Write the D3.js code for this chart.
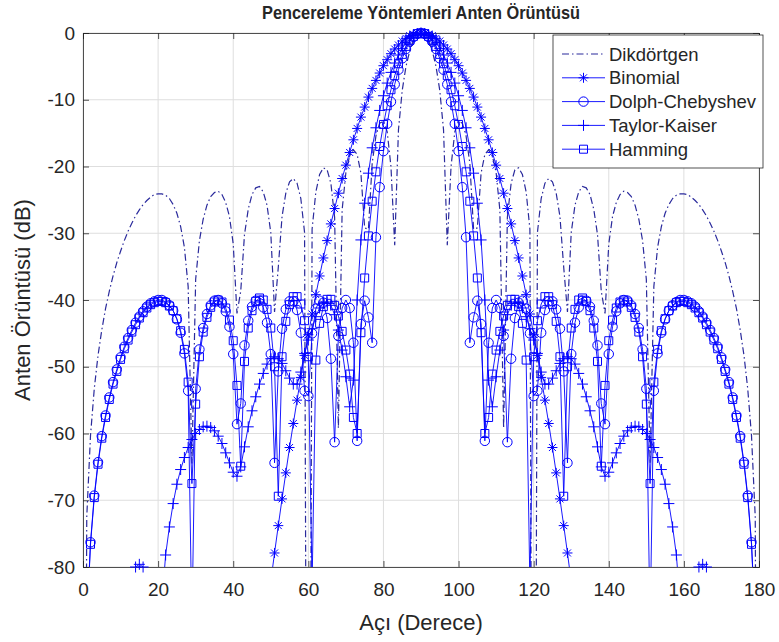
<!DOCTYPE html>
<html>
<head>
<meta charset="utf-8">
<style>
  body { margin: 0; background: #fff; }
  text { font-family: "Liberation Sans", Arial, sans-serif; fill: #262626; }
</style>
</head>
<body>
<div id="container"></div>
<script src="https://cdn.jsdelivr.net/npm/d3@7/dist/d3.min.js"></script>
<script>
  // aci ekseni: 0..180 derece, 1 derece adim
  const aci = d3.range(0, 181);

  // dB degerleri (null = -80 altinda, gorunmuyor)
  const dikdortgen = [
    -300,-72.5,-60.3,-53.3,-48.3,-44.5,-41.3,-38.7,-36.4,-34.4,
    -32.7,-31.1,-29.7,-28.5,-27.4,-26.5,-25.7,-25.1,-24.6,-24.2,
    -24.1,-24.1,-24.3,-24.8,-25.7,-27.0,-29.0,-32.1,-38.0,-64.5,
    -36.9,-31.1,-27.9,-25.8,-24.5,-23.9,-23.7,-24.2,-25.4,-27.5,
    -31.6,-42.0,-38.7,-30.2,-26.4,-24.2,-23.2,-23.0,-23.8,-25.8,
    -29.9,-41.8,-35.1,-27.5,-24.0,-22.3,-21.8,-22.5,-24.8,-29.9,
    -300,-29.4,-23.8,-21.2,-20.2,-20.5,-22.5,-27.6,-59.2,-26.5,
    -20.9,-18.4,-17.5,-18.2,-21.0,-29.2,-29.4,-19.5,-15.4,-13.5,
    -13.2,-14.8,-20.0,-31.8,-14.5,-8.6,-5.0,-2.7,-1.1,-0.3,
    0,
    -0.3,-1.1,-2.7,-5.0,-8.6,-14.5,-31.8,-20.0,-14.8,-13.2,
    -13.5,-15.4,-19.5,-29.4,-29.2,-21.0,-18.2,-17.5,-18.4,-20.9,
    -26.5,-59.2,-27.6,-22.5,-20.5,-20.2,-21.2,-23.8,-29.4,-300,
    -29.9,-24.8,-22.5,-21.8,-22.3,-24.0,-27.5,-35.1,-41.8,-29.9,
    -25.8,-23.8,-23.0,-23.2,-24.2,-26.4,-30.2,-38.7,-42.0,-31.6,
    -27.5,-25.4,-24.2,-23.7,-23.9,-24.5,-25.8,-27.9,-31.1,-36.9,
    -64.5,-38.0,-32.1,-29.0,-27.0,-25.7,-24.8,-24.3,-24.1,-24.1,
    -24.2,-24.6,-25.1,-25.7,-26.5,-27.4,-28.5,-29.7,-31.1,-32.7,
    -34.4,-36.4,-38.7,-41.3,-44.5,-48.3,-53.3,-60.3,-72.5,-300
  ];

  const binomial = [
    null,null,null,null,null,null,null,null,null,null,
    null,null,null,null,null,null,null,null,null,null,
    null,null,null,null,null,null,null,null,null,null,
    null,null,null,null,null,null,null,null,null,null,
    null,null,null,null,null,null,null,null,-91.3,-86.6,
    -82.2,-77.9,-73.8,-69.8,-65.9,-62.1,-58.5,-55.0,-51.6,-48.3,
    -45.2,-42.1,-39.2,-36.4,-33.7,-31.1,-28.6,-26.3,-24.0,-21.8,
    -19.8,-17.9,-16.0,-14.3,-12.6,-11.1,-9.6,-8.3,-7.1,-6.0,
    -4.9,-4.0,-3.1,-2.4,-1.8,-1.2,-0.8,-0.4,-0.2,-0.05,
    0,
    -0.05,-0.2,-0.4,-0.8,-1.2,-1.8,-2.4,-3.1,-4.0,-4.9,
    -6.0,-7.1,-8.3,-9.6,-11.1,-12.6,-14.3,-16.0,-17.9,-19.8,
    -21.8,-24.0,-26.3,-28.6,-31.1,-33.7,-36.4,-39.2,-42.1,-45.2,
    -48.3,-51.6,-55.0,-58.5,-62.1,-65.9,-69.8,-73.8,-77.9,-82.2,
    -86.6,-91.3,null,null,null,null,null,null,null,null,
    null,null,null,null,null,null,null,null,null,null,
    null,null,null,null,null,null,null,null,null,null,
    null,null,null,null,null,null,null,null,null,null,
    null,null,null,null,null,null,null,null,null,null
  ];

  const dolph = [
    -300,-88.4,-76.3,-69.3,-64.3,-60.4,-57.3,-54.6,-52.3,-50.4,
    -48.6,-47.0,-45.7,-44.5,-43.4,-42.5,-41.7,-41.0,-40.5,-40.2,
    -40.0,-40.0,-40.3,-40.8,-41.6,-42.9,-44.9,-48.0,-53.6,-88.9,
    -53.3,-47.4,-44.2,-42.1,-40.8,-40.1,-40.0,-40.5,-41.7,-44.0,
    -48.1,-58.6,-55.5,-46.8,-43.1,-41.0,-40.1,-40.1,-41.1,-43.4,
    -48.1,-64.4,-50.7,-44.3,-41.4,-40.2,-40.2,-41.5,-44.9,-53.6,
    -54.4,-45.0,-41.3,-40.1,-40.4,-42.7,-48.8,-61.3,-45.4,-41.2,
    -40.0,-41.2,-46.4,-61.1,-43.6,-40.1,-42.6,-46.4,-30.6,-23.1,
    -17.7,-13.6,-10.3,-7.7,-5.5,-3.8,-2.4,-1.3,-0.6,-0.15,
    0,
    -0.15,-0.6,-1.3,-2.4,-3.8,-5.5,-7.7,-10.3,-13.6,-17.7,
    -23.1,-30.6,-46.4,-42.6,-40.1,-43.6,-61.1,-46.4,-41.2,-40.0,
    -41.2,-45.4,-61.3,-48.8,-42.7,-40.4,-40.1,-41.3,-45.0,-54.4,
    -53.6,-44.9,-41.5,-40.2,-40.2,-41.4,-44.3,-50.7,-64.4,-48.1,
    -43.4,-41.1,-40.1,-40.1,-41.0,-43.1,-46.8,-55.5,-58.6,-48.1,
    -44.0,-41.7,-40.5,-40.0,-40.1,-40.8,-42.1,-44.2,-47.4,-53.3,
    -88.9,-53.6,-48.0,-44.9,-42.9,-41.6,-40.8,-40.3,-40.0,-40.0,
    -40.2,-40.5,-41.0,-41.7,-42.5,-43.4,-44.5,-45.7,-47.0,-48.6,
    -50.4,-52.3,-54.6,-57.3,-60.4,-64.3,-69.3,-76.3,-88.4,-300
  ];

  const taylor = [
    null,null,null,null,null,null,null,null,null,null,
    null,null,-84.0,-81.5,-80.0,-79.6,-80.0,-81.5,-84.5,-90.0,
    -96.0,-85.5,-78.2,-74.0,-70.5,-67.6,-65.4,-63.6,-62.1,-60.9,
    -60.0,-59.4,-59.0,-58.9,-59.1,-59.6,-60.4,-61.5,-62.9,-64.4,
    -65.8,-66.4,-65.0,-62.0,-59.0,-56.6,-54.5,-52.6,-51.0,-49.6,
    -48.8,-48.5,-48.8,-49.5,-50.6,-51.7,-52.6,-52.6,-50.8,-48.0,
    -46.0,-44.3,-42.5,-41.2,-40.5,-40.3,-40.8,-42.2,-44.5,-47.5,
    -51.5,-56.0,-52.0,-40.0,-31.0,-25.5,-21.0,-17.2,-14.2,-11.6,
    -9.4,-7.5,-5.9,-4.5,-3.3,-2.3,-1.5,-0.85,-0.38,-0.1,
    0,
    -0.1,-0.38,-0.85,-1.5,-2.3,-3.3,-4.5,-5.9,-7.5,-9.4,
    -11.6,-14.2,-17.2,-21.0,-25.5,-31.0,-40.0,-52.0,-56.0,-51.5,
    -47.5,-44.5,-42.2,-40.8,-40.3,-40.5,-41.2,-42.5,-44.3,-46.0,
    -48.0,-50.8,-52.6,-52.6,-51.7,-50.6,-49.5,-48.8,-48.5,-48.8,
    -49.6,-51.0,-52.6,-54.5,-56.6,-59.0,-62.0,-65.0,-66.4,-65.8,
    -64.4,-62.9,-61.5,-60.4,-59.6,-59.1,-58.9,-59.0,-59.4,-60.0,
    -60.9,-62.1,-63.6,-65.4,-67.6,-70.5,-74.0,-78.2,-85.5,-96.0,
    -90.0,-84.5,-81.5,-80.0,-79.6,-80.0,-81.5,-84.0,null,null,
    null,null,null,null,null,null,null,null,null,null
  ];

  const hamming = [
    -300,-88.7,-76.6,-69.6,-64.6,-60.7,-57.6,-54.9,-52.6,-50.7,
    -48.9,-47.3,-46.0,-44.8,-43.7,-42.7,-41.9,-41.2,-40.7,-40.4,
    -40.2,-40.2,-40.4,-40.9,-41.6,-42.8,-44.6,-47.4,-52.3,-67.5,
    -55.6,-48.5,-44.8,-42.6,-41.1,-40.3,-40.0,-40.3,-41.2,-43.0,
    -46.1,-52.8,-64.9,-49.2,-44.2,-41.6,-40.2,-39.7,-40.0,-41.4,
    -44.2,-50.0,-69.4,-48.5,-43.2,-40.7,-39.5,-39.5,-40.6,-43.1,
    -48.5,-82.8,-49.0,-43.5,-41.0,-39.9,-39.9,-40.8,-42.4,-44.7,
    -47.5,-51.1,-57.6,-60.0,-44.9,-36.7,-30.4,-25.2,-20.8,-17.0,
    -13.7,-10.9,-8.5,-6.4,-4.6,-3.2,-2.0,-1.1,-0.5,-0.1,
    0,
    -0.1,-0.5,-1.1,-2.0,-3.2,-4.6,-6.4,-8.5,-10.9,-13.7,
    -17.0,-20.8,-25.2,-30.4,-36.7,-44.9,-60.0,-57.6,-51.1,-47.5,
    -44.7,-42.4,-40.8,-39.9,-39.9,-41.0,-43.5,-49.0,-82.8,-48.5,
    -43.1,-40.6,-39.5,-39.5,-40.7,-43.2,-48.5,-69.4,-50.0,-44.2,
    -41.4,-40.0,-39.7,-40.2,-41.6,-44.2,-49.2,-64.9,-52.8,-46.1,
    -43.0,-41.2,-40.3,-40.0,-40.3,-41.1,-42.6,-44.8,-48.5,-55.6,
    -67.5,-52.3,-47.4,-44.6,-42.8,-41.6,-40.9,-40.4,-40.2,-40.2,
    -40.4,-40.7,-41.2,-41.9,-42.7,-43.7,-44.8,-46.0,-47.3,-48.9,
    -50.7,-52.6,-54.9,-57.6,-60.7,-64.6,-69.6,-76.6,-88.7,-300
  ];

  const xTicks = [0, 20, 40, 60, 80, 100, 120, 140, 160, 180];
  const yTicks = [0, -10, -20, -30, -40, -50, -60, -70, -80];

  const renk = "#0000ff";
  const seriler = [
    { ad: "Dikdörtgen", deger: dikdortgen, isaret: null, kesik: "7,3,1.5,3", renk: "#2a2a9c" },
    { ad: "Binomial", deger: binomial, isaret: "yildiz" },
    { ad: "Dolph-Chebyshev", deger: dolph, isaret: "daire" },
    { ad: "Taylor-Kaiser", deger: taylor, isaret: "arti" },
    { ad: "Hamming", deger: hamming, isaret: "kare" }
  ];

  const W = 779, H = 642;
  const margin = { top: 33, right: 20, bottom: 75, left: 83 };
  const width = W - margin.left - margin.right;
  const height = H - margin.top - margin.bottom;

  const svg = d3.select("#container").append("svg")
    .attr("width", W).attr("height", H)
    .style("display", "block")
    .style("background", "#fff");

  const x = d3.scaleLinear().domain([0, 180]).range([0, width]);
  const y = d3.scaleLinear().domain([-80, 0]).range([height, 0]);

  const g = svg.append("g").attr("transform", `translate(${margin.left},${margin.top})`);

  svg.append("defs").append("clipPath").attr("id", "alan")
    .append("rect").attr("width", width).attr("height", height);

  // grid
  g.append("g").selectAll("line").data(xTicks).join("line")
    .attr("x1", d => x(d)).attr("x2", d => x(d))
    .attr("y1", 0).attr("y2", height)
    .attr("stroke", "#dedede").attr("stroke-width", 1);
  g.append("g").selectAll("line").data(yTicks).join("line")
    .attr("x1", 0).attr("x2", width)
    .attr("y1", d => y(d)).attr("y2", d => y(d))
    .attr("stroke", "#dedede").attr("stroke-width", 1);

  // axes (ticks inward, box around)
  const ax = d3.axisBottom(x).tickValues(xTicks).tickSize(-6).tickPadding(16);
  const ay = d3.axisLeft(y).tickValues(yTicks).tickSize(-6).tickPadding(8)
    .tickFormat(d => d === 0 ? "0" : "-" + Math.abs(d));
  const gx = g.append("g").attr("transform", `translate(0,${height})`).call(ax);
  const gy = g.append("g").call(ay);
  g.append("g").call(d3.axisTop(x).tickValues(xTicks).tickSize(-6).tickFormat(""));
  g.append("g").attr("transform", `translate(${width},0)`)
    .call(d3.axisRight(y).tickValues(yTicks).tickSize(-6).tickFormat(""));
  g.selectAll(".domain, .tick line").attr("stroke", "#262626").attr("stroke-width", 0.8);
  g.selectAll(".tick text").attr("font-size", 19).style("fill", "#262626")
    .style("font-family", '"Liberation Sans", Arial, sans-serif');

  // curves
  const line = d3.line()
    .defined(d => d[1] !== null)
    .x(d => x(d[0]))
    .y(d => y(Math.max(d[1], -200)));

  const sekil = {
    yildiz: "M-5,0H5M0,-5V5M-3.5,-3.5L3.5,3.5M-3.5,3.5L3.5,-3.5",
    arti: "M-5.5,0H5.5M0,-5.5V5.5",
    kare: "M-4,-4H4V4H-4Z",
    daire: d3.symbol(d3.symbolCircle, 70)()
  };

  const plot = g.append("g");
  seriler.forEach(s => {
    const pts = aci.map((a, i) => [a, s.deger[i]]);
    plot.append("path")
      .attr("clip-path", "url(#alan)")
      .attr("d", line(pts))
      .attr("fill", "none")
      .attr("stroke", s.renk || renk)
      .attr("stroke-width", s.isaret ? 0.9 : 1.2)
      .attr("stroke-dasharray", s.kesik || null);
    if (s.isaret) {
      plot.append("g").selectAll("path")
        .data(pts.filter(p => p[1] !== null && p[1] >= -80.2 && p[1] <= 0))
        .join("path")
        .attr("transform", p => `translate(${x(p[0])},${y(p[1])})`)
        .attr("d", sekil[s.isaret])
        .attr("fill", "none")
        .attr("stroke", renk)
        .attr("stroke-width", 1);
    }
  });

  // legend
  const leg = svg.append("g").attr("transform", "translate(553,35)");
  leg.append("rect").attr("width", 210).attr("height", 133)
    .attr("fill", "#fff").attr("stroke", "#262626").attr("stroke-width", 0.8);
  seriler.forEach((s, i) => {
    const yy = 19 + i * 23.8;
    leg.append("line").attr("x1", 9).attr("x2", 52).attr("y1", yy).attr("y2", yy)
      .attr("stroke", s.renk || renk).attr("stroke-width", s.isaret ? 0.9 : 1.2)
      .attr("stroke-dasharray", s.kesik || null);
    if (s.isaret) {
      leg.append("path").attr("transform", `translate(30.5,${yy})`)
        .attr("d", sekil[s.isaret]).attr("fill", "none")
        .attr("stroke", renk).attr("stroke-width", 1);
    }
    leg.append("text").attr("x", 56).attr("y", yy + 6.5)
      .attr("font-size", 18.5).text(s.ad);
  });

  // labels
  svg.append("text").attr("x", margin.left + width / 2).attr("y", 19)
    .attr("text-anchor", "middle").attr("font-size", 19).attr("font-weight", "bold")
    .attr("textLength", 318).attr("lengthAdjust", "spacingAndGlyphs")
    .text("Pencereleme Yöntemleri Anten Örüntüsü");
  svg.append("text").attr("x", margin.left + width / 2).attr("y", 630)
    .attr("text-anchor", "middle").attr("font-size", 22)
    .text("Açı (Derece)");
  svg.append("text").attr("transform", `translate(30,${margin.top + height / 2}) rotate(-90)`)
    .attr("text-anchor", "middle").attr("font-size", 22)
    .text("Anten Örüntüsü (dB)");
</script>
</body>
</html>
